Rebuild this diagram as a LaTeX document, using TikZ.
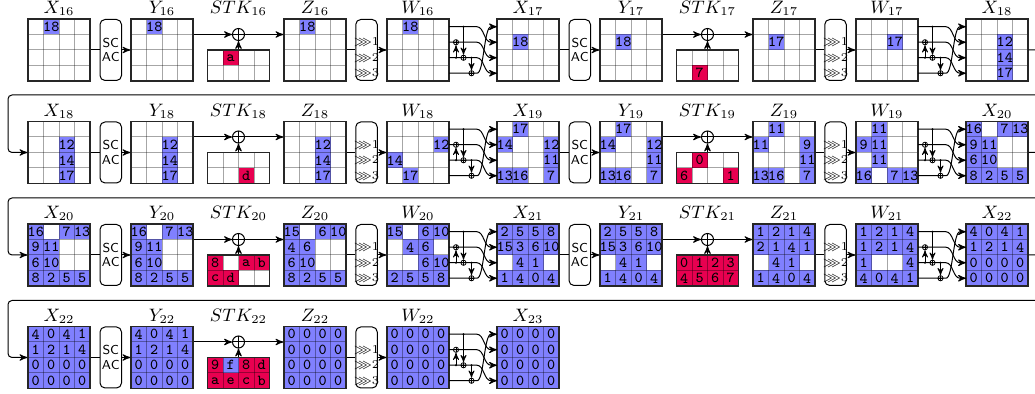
\documentclass[tikz,border=0pt]{standalone}
\usepackage{amsmath,amssymb}
\usepackage{tikz}
\usetikzlibrary{arrows,positioning}
\definecolor{cell_blue}{RGB}{128,128,255}
\definecolor{key_red}{RGB}{232,0,80}
\colorlet{bl}{cell_blue}
\colorlet{rd}{key_red}

% one state grid: name, left x, top y, rows, cells col/row/value/colour
\newcommand{\stgrid}[5]{%
  \edef\celllist{#5}%
  \foreach \col/\row/\val/\clr in \celllist {
    \fill[fill=\clr] (#2+\col*15.5,#3+\row*15.5) rectangle ++(15.5,15.5);
  }
  \pgfmathtruncatemacro\lastrow{#4-1}
  \foreach \i in {1,2,3} \draw[gridline] (#2+\i*15.5,#3) -- ++(0,#4*15.5);
  \foreach \i in {1,...,\lastrow} \draw[gridline] (#2,#3+\i*15.5) -- ++(62,0);
  \node[gridbox, minimum height=#4*7.75pt] (#1) at (#2+31,#3+#4*7.75) {};
  \foreach \col/\row/\val/\clr in \celllist {
    \node[cell] (#1-\col\row) at (#2+\col*15.5+7.75,#3+\row*15.5+7.75) {\val};
  }
  \foreach \i in {0,...,\lastrow} {
    \coordinate (#1-w\i) at (#2,#3+\i*15.5+7.75);
    \coordinate (#1-e\i) at (#2+62,#3+\i*15.5+7.75);
  }
}

% internal state X with its title
\newcommand{\xgrid}[5]{%
  \stgrid{#1}{#2}{#3}{4}{#5}
  \node[title, above=0.5pt of #1] (t#1) {$X_{#4}$};
}

% mix columns wiring: W grid, next X grid, prefix
\newcommand{\mixcol}[3]{%
  \path (#1-e1) ++(7,0) node[xsml] (#3-a) {};
  \path (#1-e2) ++(14.5,0) node[xsml] (#3-b) {};
  \path (#1-e3) ++(22.5,0) node[xsml] (#3-c) {};
  \draw[->] (#1-e0) -- ++(28,0) .. controls +(7,0) and +(-7,0) .. ([xshift=-3pt]#2-w1) -- (#2-w1);
  \draw[->] (#1-e1) -- ++(28,0) .. controls +(7,0) and +(-7,0) .. ([xshift=-3pt]#2-w2) -- (#2-w2);
  \draw[->] (#1-e2) -- ++(28,0) .. controls +(7,0) and +(-7,0) .. ([xshift=-3pt]#2-w3) -- (#2-w3);
  \draw[->] (#1-e3) -- ++(28,0) .. controls +(7,0) and +(-7,0) .. ([xshift=-3pt]#2-w0) -- (#2-w0);
  \draw[->, thin] (#3-b |- #1-e0) -- (#3-b);
  \draw[->, thin] (#3-a |- #1-e2) -- (#3-a);
  \draw[->, thin] (#3-c |- #1-e2) -- (#3-c);
  \fill (#3-b |- #1-e0) circle (0.6pt) (#3-a |- #1-e2) circle (0.6pt) (#3-c |- #1-e2) circle (0.6pt);
}

% one round: X name, round, x offset, top y, Y, STK, Z, W cells, next X name
\newcommand{\skround}[9]{%
  \stgrid{y#2}{131+#3}{#4}{4}{#5}
  \stgrid{stk#2}{207.5+#3}{#4+31}{2}{#6}
  \stgrid{z#2}{284+#3}{#4}{4}{#7}
  \stgrid{w#2}{387+#3}{#4}{4}{#8}
  \node[sbox] (sc#2) at (110.75+#3,#4+31) {SC\\AC};
  \node[sbox] (sr#2) at (366.5+#3,#4+31) {};
  \foreach \i in {1,2,3} \node[srlab] (sr#2-\i) at (sr#2 |- z#2-e\i) {$\ggg$\i};
  \node[xbig] (add#2) at (238.5+#3,#4+15.5) {};
  \node[title, above=0.5pt of y#2] (ty#2) {$Y_{#2}$};
  \node[title, above=0.5pt of z#2] (tz#2) {$Z_{#2}$};
  \node[title, above=0.5pt of w#2] (tw#2) {$W_{#2}$};
  \node[title, anchor=base] (tstk#2) at (ty#2.base -| add#2) {$STK_{#2}$};
  \draw (#1) -- (sc#2);
  \draw[->] (sc#2) -- (y#2);
  \draw[->] (y#2.east |- add#2) -- (add#2);
  \draw[->] (add#2) -- (z#2.west |- add#2);
  \draw[->] (stk#2) -- (add#2);
  \draw (z#2) -- (sr#2);
  \draw[->] (sr#2) -- (w#2);
  \mixcol{w#2}{#9}{mc#2}
}

\newcommand{\xeighteen}{2/1/12/bl,2/2/14/bl,2/3/17/bl}
\newcommand{\xnineteen}{1/0/17/bl,0/1/14/bl,3/1/12/bl,3/2/11/bl,0/3/13/bl,1/3/16/bl,3/3/7/bl}
\newcommand{\xtwenty}{0/0/16/bl,2/0/7/bl,3/0/13/bl,0/1/9/bl,1/1/11/bl,0/2/6/bl,1/2/10/bl,0/3/8/bl,1/3/2/bl,2/3/5/bl,3/3/5/bl}
\newcommand{\xtwentyone}{0/0/2/bl,1/0/5/bl,2/0/5/bl,3/0/8/bl,0/1/15/bl,1/1/3/bl,2/1/6/bl,3/1/10/bl,1/2/4/bl,2/2/1/bl,0/3/1/bl,1/3/4/bl,2/3/0/bl,3/3/4/bl}
\newcommand{\xtwentytwo}{0/0/4/bl,1/0/0/bl,2/0/4/bl,3/0/1/bl,0/1/1/bl,1/1/2/bl,2/1/1/bl,3/1/4/bl,0/2/0/bl,1/2/0/bl,2/2/0/bl,3/2/0/bl,0/3/0/bl,1/3/0/bl,2/3/0/bl,3/3/0/bl}
\newcommand{\allzero}{0/0/0/bl,1/0/0/bl,2/0/0/bl,3/0/0/bl,0/1/0/bl,1/1/0/bl,2/1/0/bl,3/1/0/bl,0/2/0/bl,1/2/0/bl,2/2/0/bl,3/2/0/bl,0/3/0/bl,1/3/0/bl,2/3/0/bl,3/3/0/bl}

\begin{document}
\begin{tikzpicture}[x=0.5pt,y=-0.5pt,line width=0.5pt,>=stealth']
    \tikzstyle{gridline}=[draw=black, draw opacity=0.35, line width=0.5pt]
    \tikzstyle{gridbox}=[draw=black!85, line width=0.6pt, inner sep=0pt, minimum width=31pt]
    \tikzstyle{cell}=[inner sep=0pt, font=\ttfamily\fontsize{7.6}{7.6}\selectfont]
    \tikzstyle{title}=[inner sep=0.5pt, font=\fontsize{8.6}{9}\selectfont]
    \tikzstyle{sbox}=[draw, rounded corners=2.5pt, minimum width=10.75pt, minimum height=30.5pt, inner sep=0pt, align=center, font=\sffamily\fontsize{6.5}{7.3}\selectfont]
    \tikzstyle{srlab}=[inner sep=0pt, font=\fontsize{6}{6}\selectfont]
    \tikzstyle{xbig}=[circle, draw, fill=white, inner sep=0pt, minimum size=6pt, path picture={\draw (path picture bounding box.north) -- (path picture bounding box.south) (path picture bounding box.west) -- (path picture bounding box.east);}]
    \tikzstyle{xsml}=[circle, draw, fill=white, thin, inner sep=0pt, minimum size=2.6pt, path picture={\draw[thin] (path picture bounding box.north) -- (path picture bounding box.south) (path picture bounding box.west) -- (path picture bounding box.east);}]

    \useasboundingbox (0,0) rectangle (1035,394);

    % rounds 16 and 17
    \xgrid{x16}{28}{19}{16}{1/0/18/bl}
    \xgrid{x17}{497}{19}{17}{1/1/18/bl}
    \xgrid{x18}{966}{19}{18}{\xeighteen}
    \skround{x16}{16}{0}{19}{1/0/18/bl}{1/0/a/rd}{1/0/18/bl}{1/0/18/bl}{x17}
    \skround{x17}{17}{469}{19}{1/1/18/bl}{1/1/7/rd}{1/1/17/bl}{2/1/17/bl}{x18}

    % rounds 18 and 19
    \xgrid{x18b}{28}{121.5}{18}{\xeighteen}
    \xgrid{x19}{497}{121.5}{19}{\xnineteen}
    \xgrid{x20}{966}{121.5}{20}{\xtwenty}
    \skround{x18b}{18}{0}{121.5}{\xeighteen}{2/1/d/rd}{\xeighteen}{3/1/12/bl,0/2/14/bl,1/3/17/bl}{x19}
    \skround{x19}{19}{469}{121.5}{\xnineteen}{1/0/0/rd,0/1/6/rd,3/1/1/rd}%
      {1/0/11/bl,0/1/11/bl,3/1/9/bl,3/2/11/bl,0/3/13/bl,1/3/16/bl,3/3/7/bl}%
      {1/0/11/bl,0/1/9/bl,1/1/11/bl,1/2/11/bl,0/3/16/bl,2/3/7/bl,3/3/13/bl}{x20}

    % rounds 20 and 21
    \xgrid{x20b}{28}{224}{20}{\xtwenty}
    \xgrid{x21}{497}{224}{21}{\xtwentyone}
    \xgrid{x22}{966}{224}{22}{\xtwentytwo}
    \skround{x20b}{20}{0}{224}{\xtwenty}{0/0/8/rd,2/0/a/rd,3/0/b/rd,0/1/c/rd,1/1/d/rd}%
      {0/0/15/bl,2/0/6/bl,3/0/10/bl,0/1/4/bl,1/1/6/bl,0/2/6/bl,1/2/10/bl,0/3/8/bl,1/3/2/bl,2/3/5/bl,3/3/5/bl}%
      {0/0/15/bl,2/0/6/bl,3/0/10/bl,1/1/4/bl,2/1/6/bl,2/2/6/bl,3/2/10/bl,0/3/2/bl,1/3/5/bl,2/3/5/bl,3/3/8/bl}{x21}
    \skround{x21}{21}{469}{224}{\xtwentyone}%
      {0/0/0/rd,1/0/1/rd,2/0/2/rd,3/0/3/rd,0/1/4/rd,1/1/5/rd,2/1/6/rd,3/1/7/rd}%
      {0/0/1/bl,1/0/2/bl,2/0/1/bl,3/0/4/bl,0/1/2/bl,1/1/1/bl,2/1/4/bl,3/1/1/bl,1/2/4/bl,2/2/1/bl,0/3/1/bl,1/3/4/bl,2/3/0/bl,3/3/4/bl}%
      {0/0/1/bl,1/0/2/bl,2/0/1/bl,3/0/4/bl,0/1/1/bl,1/1/2/bl,2/1/1/bl,3/1/4/bl,0/2/1/bl,3/2/4/bl,0/3/4/bl,1/3/0/bl,2/3/4/bl,3/3/1/bl}{x22}

    % round 22
    \xgrid{x22b}{28}{326.5}{22}{\xtwentytwo}
    \xgrid{x23}{497}{326.5}{23}{\allzero}
    \skround{x22b}{22}{0}{326.5}{\xtwentytwo}%
      {0/0/9/rd,1/0/f/bl,2/0/8/rd,3/0/d/rd,0/1/a/rd,1/1/e/rd,2/1/c/rd,3/1/b/rd}%
      {\allzero}{\allzero}{x23}

    % wrap to next row
    \coordinate (wrap1) at (8,95);
    \coordinate (wrap2) at (8,198);
    \coordinate (wrap3) at (8,300.5);
    \draw[->, rounded corners=2pt] (x18.east) -- ++(20,0) |- (wrap1) |- (x18b.west);
    \draw[->, rounded corners=2pt] (x20.east) -- ++(20,0) |- (wrap2) |- (x20b.west);
    \draw[->, rounded corners=2pt] (x22.east) -- ++(20,0) |- (wrap3) |- (x22b.west);
\end{tikzpicture}
\end{document}
